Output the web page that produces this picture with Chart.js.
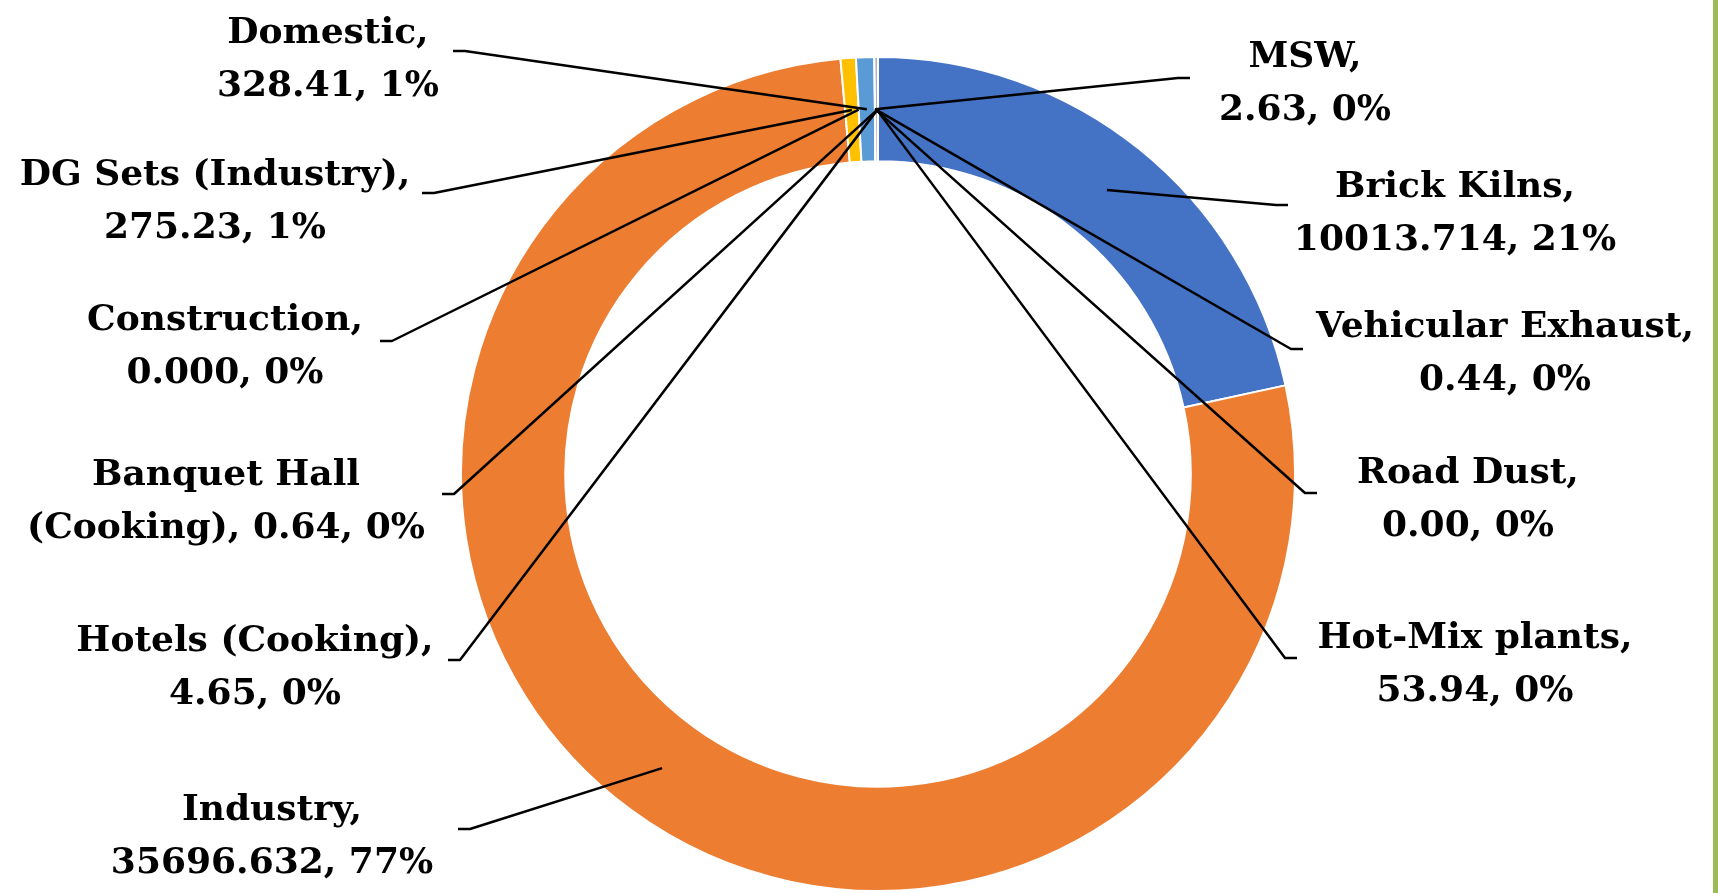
<!DOCTYPE html>
<html>
<head>
<meta charset="utf-8">
<title>Emission Sources</title>
<script src="https://cdn.jsdelivr.net/npm/chart.js@4.4.0/dist/chart.umd.min.js"></script>
<style>
    body { margin: 0; background: #fff; overflow: hidden; }
    #wrap { position: relative; width: 1718px; height: 893px; }
    #sideBar { position: absolute; left: 1713px; top: 0; width: 5px; height: 893px; background: #9bbb59; }
</style>
</head>
<body>
<div id="wrap">
    <canvas id="sourceChart" width="1718" height="893"></canvas>
    <div id="sideBar"></div>
</div>
<script>
// Sumber emisi (urutan searah jarum jam mulai dari atas)
const sources = ['Brick Kilns', 'Industry', 'DG Sets (Industry)', 'Construction', 'Domestic',
    'MSW', 'Vehicular Exhaust', 'Road Dust', 'Hot-Mix plants', 'Hotels (Cooking)', 'Banquet Hall\n(Cooking)'];
const emissions = [10013.714, 35696.632, 275.23, 0, 328.41, 2.63, 0.44, 0, 53.94, 4.65, 0.64];
const decimals = [3, 3, 2, 3, 2, 2, 2, 2, 2, 2, 2];
const percents = [21, 77, 1, 0, 1, 0, 0, 0, 0, 0, 0];
const colors = ['#4472c4', '#ed7d31', '#ffc000', '#a5a5a5', '#5b9bd5',
    '#70ad47', '#264478', '#9e480e', '#636363', '#997300', '#255e91'];

// Posisi label: tengah teks, baseline baris pertama, titik awal garis, arah siku
const labelPos = [
    { cx: 1455, by: 197, ax: 1288, ay: 205, dir: -1 },
    { cx: 272, by: 820, ax: 458, ay: 829, dir: 1 },
    { cx: 215, by: 185, ax: 422, ay: 193, dir: 1 },
    { cx: 225, by: 330, ax: 380, ay: 341, dir: 1 },
    { cx: 328, by: 43, ax: 453, ay: 51, dir: 1 },
    { cx: 1305, by: 67, ax: 1190, ay: 78, dir: -1 },
    { cx: 1505, by: 337, ax: 1303, ay: 349, dir: -1 },
    { cx: 1468, by: 483, ax: 1317, ay: 493, dir: -1 },
    { cx: 1475, by: 648, ax: 1297, ay: 658, dir: -1 },
    { cx: 255, by: 651, ax: 448, ay: 660, dir: 1 },
    { cx: 226, by: 485, ax: 442, ay: 494, dir: 1 }
];

function labelLines(i) {
    const rest = emissions[i].toFixed(decimals[i]) + ', ' + percents[i] + '%';
    const name = sources[i];
    if (name.indexOf('\n') >= 0) {
        const parts = name.split('\n');
        return [parts[0], parts[1] + ', ' + rest];
    }
    return [name + ',', rest];
}

// Label data dengan garis penunjuk ke tengah tiap irisan
const leaderLabels = {
    id: 'leaderLabels',
    afterDatasetsDraw(chart) {
        const ctx = chart.ctx;
        const arcs = chart.getDatasetMeta(0).data;
        ctx.save();
        ctx.strokeStyle = '#000';
        ctx.lineWidth = 2.5;
        ctx.lineJoin = 'round';
        arcs.forEach((arc, i) => {
            const pos = labelPos[i];
            const p = arc.getCenterPoint();
            ctx.beginPath();
            ctx.moveTo(pos.ax, pos.ay);
            ctx.lineTo(pos.ax + pos.dir * 12, pos.ay);
            ctx.lineTo(p.x, p.y);
            ctx.stroke();
        });
        ctx.fillStyle = '#000';
        ctx.font = 'bold 36px "DejaVu Serif"';
        ctx.textAlign = 'center';
        ctx.textBaseline = 'alphabetic';
        arcs.forEach((arc, i) => {
            const pos = labelPos[i];
            labelLines(i).forEach((line, k) => {
                ctx.fillText(line, pos.cx, pos.by + k * 53);
            });
        });
        ctx.restore();
    }
};

const ctx = document.getElementById('sourceChart').getContext('2d');
const sourceChart = new Chart(ctx, {
    type: 'doughnut',
    data: {
        labels: sources,
        datasets: [{
            data: emissions,
            backgroundColor: colors,
            borderColor: '#ffffff',
            borderWidth: 2
        }]
    },
    options: {
        responsive: false,
        animation: false,
        cutout: '75%',
        layout: {
            padding: { top: 56, bottom: 1, left: 460, right: 422 }
        },
        plugins: {
            legend: { display: false },
            tooltip: { enabled: false }
        }
    },
    plugins: [leaderLabels]
});
</script>
</body>
</html>
